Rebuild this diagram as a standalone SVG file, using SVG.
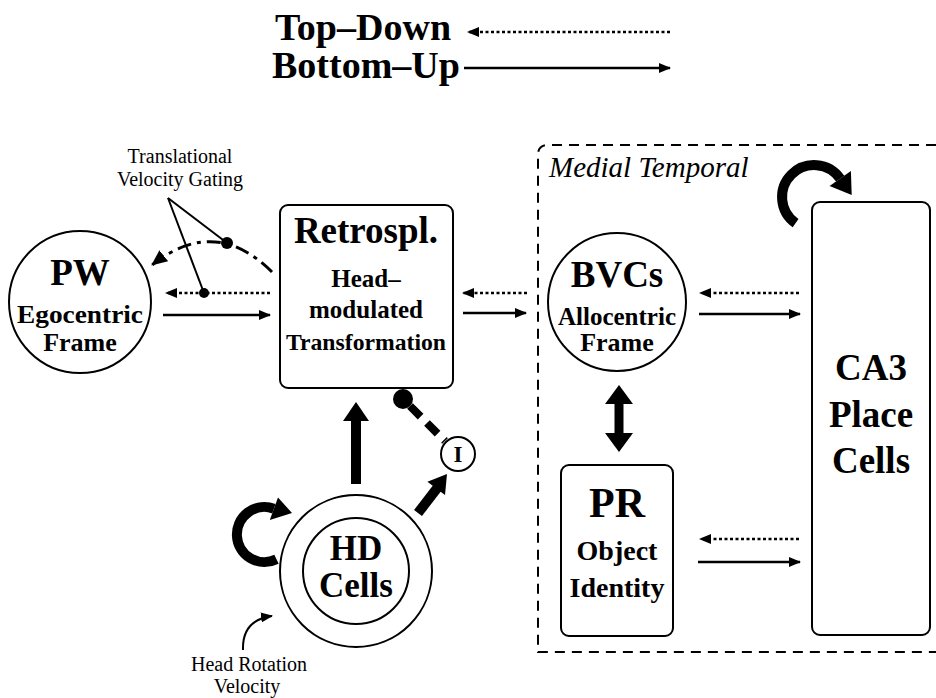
<svg xmlns="http://www.w3.org/2000/svg" width="936" height="698" viewBox="0 0 936 698">
<defs>
<style>
text{font-family:"Liberation Serif","Times New Roman",serif;fill:#000;text-anchor:middle}
.b{font-weight:bold}
.box{fill:#fff;stroke:#000;stroke-width:2}
.solid{fill:none;stroke:#000;stroke-width:2.5}
.dot{fill:none;stroke:#000;stroke-width:2.5;stroke-dasharray:3 2.5}
.thick{fill:none;stroke:#000;stroke-width:10}
</style>
<marker id="ah" viewBox="0 0 12 10" refX="11" refY="5" markerWidth="12" markerHeight="10" markerUnits="userSpaceOnUse" orient="auto"><path d="M0,0 L12,5 L0,10 z" fill="#000"/></marker>
<marker id="ah2" viewBox="0 0 16 14" refX="15" refY="7" markerWidth="16" markerHeight="14" markerUnits="userSpaceOnUse" orient="auto"><path d="M0,0 L16,7 L0,14 z" fill="#000"/></marker>
</defs>
<rect width="936" height="698" fill="#fff"/>

<g id="legend">
<text class="b" x="275" y="40" font-size="38" style="text-anchor:start">Top–Down</text>
<text class="b" x="272" y="78" font-size="38" style="text-anchor:start">Bottom–Up</text>
<line class="dot" x1="670" y1="32" x2="468" y2="32" marker-end="url(#ah)"/>
<line class="solid" x1="464" y1="68" x2="670" y2="68" marker-end="url(#ah)"/>
</g>

<g id="medial-temporal">
<path d="M936 145 L548 145 Q538 145 538 155 L538 652 L936 652" fill="none" stroke="#000" stroke-width="2" stroke-dasharray="10 7"/>
<text x="549" y="177" font-size="29" font-style="italic" style="text-anchor:start">Medial Temporal</text>
</g>

<g id="pw">
<circle cx="80" cy="302" r="71" class="box"/>
<text class="b" x="80" y="285" font-size="37">PW</text>
<text class="b" x="80" y="323" font-size="25" textLength="126" lengthAdjust="spacingAndGlyphs">Egocentric</text>
<text class="b" x="80" y="351" font-size="26">Frame</text>
</g>

<g id="retrospl">
<rect x="280" y="205" width="173" height="183" rx="8" class="box"/>
<text class="b" x="366" y="243" font-size="37">Retrospl.</text>
<text class="b" x="366" y="287" font-size="25">Head–</text>
<text class="b" x="366" y="318" font-size="25">modulated</text>
<text class="b" x="366" y="350" font-size="24" textLength="160" lengthAdjust="spacingAndGlyphs">Transformation</text>
</g>

<g id="bvcs">
<circle cx="617" cy="302" r="69" class="box"/>
<text class="b" x="617" y="287" font-size="37">BVCs</text>
<text class="b" x="617" y="325" font-size="25">Allocentric</text>
<text class="b" x="617" y="351" font-size="26">Frame</text>
</g>

<g id="ca3">
<rect x="812" y="202" width="118" height="433" rx="8" class="box"/>
<text class="b" x="871" y="380" font-size="37">CA3</text>
<text class="b" x="871" y="427" font-size="37">Place</text>
<text class="b" x="871" y="473" font-size="37">Cells</text>
</g>

<g id="pr">
<rect x="561" y="465" width="112" height="171" rx="8" class="box"/>
<text class="b" x="617" y="517" font-size="42">PR</text>
<text class="b" x="617" y="560" font-size="28">Object</text>
<text class="b" x="617" y="597" font-size="28">Identity</text>
</g>

<g id="hd">
<circle cx="356" cy="571" r="76" class="box"/>
<circle cx="356" cy="571" r="53" fill="none" stroke="#000" stroke-width="2"/>
<text class="b" x="356" y="560" font-size="35">HD</text>
<text class="b" x="356" y="597" font-size="35">Cells</text>
</g>

<g id="inhib">
<circle cx="458" cy="454" r="17" class="box"/>
<text class="b" x="458" y="462" font-size="23">I</text>
</g>

<g id="labels">
<text x="180" y="163" font-size="20">Translational</text>
<text x="180" y="186" font-size="20">Velocity Gating</text>
<text x="249" y="671" font-size="20">Head Rotation</text>
<text x="247" y="693" font-size="20">Velocity</text>
</g>

<g id="connectors">
<line class="dot" x1="270" y1="293" x2="166" y2="293" marker-end="url(#ah)"/>
<line class="solid" x1="163" y1="315" x2="270" y2="315" marker-end="url(#ah)"/>
<path d="M272 272 Q215 215 152 265" fill="none" stroke="#000" stroke-width="3" stroke-dasharray="14 6 4 6" marker-end="url(#ah2)"/>
<circle cx="227" cy="243" r="6" fill="#000"/>
<circle cx="204" cy="293" r="5" fill="#000"/>
<line x1="168" y1="198" x2="227" y2="243" stroke="#000" stroke-width="2"/>
<line x1="168" y1="198" x2="204" y2="293" stroke="#000" stroke-width="2"/>
<line class="dot" x1="527" y1="293" x2="463" y2="293" marker-end="url(#ah)"/>
<line class="solid" x1="463" y1="313" x2="526" y2="313" marker-end="url(#ah)"/>
<line class="dot" x1="799" y1="293" x2="700" y2="293" marker-end="url(#ah)"/>
<line class="solid" x1="699" y1="314" x2="800" y2="314" marker-end="url(#ah)"/>
<line class="dot" x1="799" y1="539" x2="700" y2="539" marker-end="url(#ah)"/>
<line class="solid" x1="698" y1="562" x2="800" y2="562" marker-end="url(#ah)"/>
<line x1="619" y1="400" x2="619" y2="437" stroke="#000" stroke-width="9"/>
<polygon points="619,385 605,404 633,404" fill="#000"/>
<polygon points="619,452 605,433 633,433" fill="#000"/>
<line class="thick" x1="356" y1="484" x2="356" y2="418"/>
<polygon points="356,402 343,421 369,421" fill="#000"/>
<line class="thick" x1="418" y1="513" x2="438" y2="487"/>
<polygon points="447,474 445,495 427.4,481.8" fill="#000"/>
<circle cx="403" cy="399" r="10" fill="#000"/>
<line x1="410" y1="406" x2="445" y2="441" stroke="#000" stroke-width="8" stroke-dasharray="15 9"/>
<path d="M795.6 223.2 A32 32 0 1 1 840.2 178.6" class="thick" stroke-width="9"/>
<polygon points="850.9,171.1 829.6,186.1 851.7,195" fill="#000"/>
<path d="M276.5 559.2 A27.5 27.5 0 1 1 273.9 508.7" class="thick"/>
<polygon points="269.8,520 278,497.4 292,513" fill="#000"/>
<path d="M243 650 Q242 620 272 616" fill="none" stroke="#000" stroke-width="2" marker-end="url(#ah)"/>
</g>
</svg>
